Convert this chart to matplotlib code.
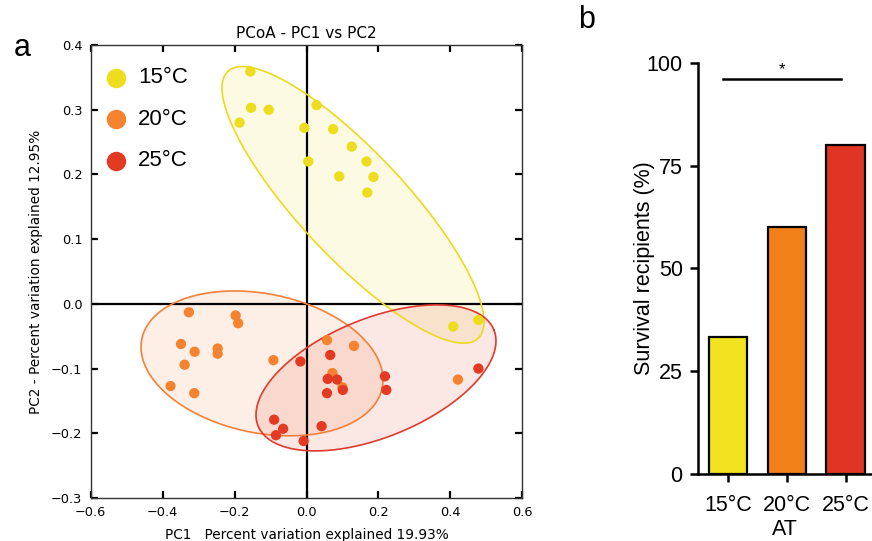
import numpy as np
import matplotlib
matplotlib.use("Agg")
import matplotlib.pyplot as plt

plt.rcParams['font.family'] = ['DejaVu Sans']

# ---------------- data ----------------
groups = ["15°C", "20°C", "25°C"]
point_colors = ["#EEDC1E", "#F5822F", "#E23A23"]
edge_colors = ["#EDD91E", "#F4803A", "#E0392E"]

pc1_15 = [-0.156, -0.154, -0.105, -0.186, -0.006, 0.028, 0.074, 0.126, 0.167, 0.005, 0.091, 0.186, 0.169, 0.408, 0.478]
pc2_15 = [0.359, 0.303, 0.300, 0.280, 0.272, 0.307, 0.270, 0.243, 0.220, 0.220, 0.197, 0.196, 0.172, -0.035, -0.025]

pc1_20 = [-0.327, -0.197, -0.190, -0.349, -0.311, -0.247, -0.247, -0.339, -0.378, -0.312, -0.092, 0.057, 0.132, 0.072, 0.100, 0.421]
pc2_20 = [-0.013, -0.018, -0.030, -0.062, -0.074, -0.069, -0.077, -0.094, -0.127, -0.138, -0.087, -0.056, -0.065, -0.107, -0.129, -0.117]

pc1_25 = [-0.017, 0.066, 0.059, 0.085, 0.101, 0.057, 0.218, 0.222, 0.478, -0.090, -0.065, -0.085, 0.042, -0.008]
pc2_25 = [-0.089, -0.079, -0.116, -0.117, -0.133, -0.138, -0.112, -0.133, -0.100, -0.179, -0.193, -0.203, -0.189, -0.212]

# ellipses: center and two conjugate semi-axis vectors (data units)
ell_center = [(0.1293, 0.1530), (-0.1237, -0.0920), (0.1932, -0.1144)]
ell_u = [(0.348, -0.2062), (0.3342, -0.0377), (0.3278, 0.0743)]
ell_v = [(-0.1073, -0.0561), (-0.0386, -0.1054), (0.0623, -0.0849)]

bar_labels = ["15°C", "20°C", "25°C"]
survival = [33.3, 60.0, 80.0]
bar_colors = ["#F1E31F", "#F28019", "#E03522"]
sig_x = [-0.09, 1.92]
sig_y = 96.0

xticks_a = [-0.6, -0.4, -0.2, 0.0, 0.2, 0.4, 0.6]
yticks_a = [-0.3, -0.2, -0.1, 0.0, 0.1, 0.2, 0.3, 0.4]
yticks_b = [0, 25, 50, 75, 100]

# ---------------- figure ----------------
fig = plt.figure(figsize=(8.72, 5.41), dpi=100)

W, H = 872.0, 541.0
ax = fig.add_axes([90.7 / W, 1 - 498 / H, (522.3 - 90.7) / W, (498 - 45) / H])

ax.set_xlim(-0.6, 0.6)
ax.set_ylim(-0.3, 0.4)

xs = [pc1_15, pc1_20, pc1_25]
ys = [pc2_15, pc2_20, pc2_25]

t = np.linspace(0, 2 * np.pi, 400)
for i in range(3):
    cx, cy = ell_center[i]
    ux, uy = ell_u[i]
    vx, vy = ell_v[i]
    ex = cx + ux * np.cos(t) + vx * np.sin(t)
    ey = cy + uy * np.cos(t) + vy * np.sin(t)
    ax.fill(ex, ey, color=point_colors[i], alpha=0.12, lw=0, zorder=1)
    ax.plot(ex, ey, color=edge_colors[i], lw=1.2, zorder=2)

ax.axhline(0, color='black', lw=1.6, zorder=1.5)
ax.axvline(0, color='black', lw=1.6, zorder=1.5)

for i in range(3):
    ax.scatter(xs[i], ys[i], s=55, color=point_colors[i], edgecolors='none', zorder=3 + i)

ax.set_xticks(xticks_a)
ax.set_yticks(yticks_a)
ax.set_xticklabels([f"{v:.1f}".replace("-", "\u2212") for v in xticks_a])
ax.set_yticklabels([f"{v:.1f}".replace("-", "\u2212") for v in yticks_a])
ax.tick_params(direction='in', length=5, width=1.6, labelsize=9.3, pad=6,
               top=True, right=True, color='black')
for sp in ax.spines.values():
    sp.set_linewidth(1.0)
    sp.set_color('#333333')

ax.set_title("PCoA - PC1 vs PC2", fontsize=11, pad=5)
ax.set_xlabel("PC1   Percent variation explained 19.93%", fontsize=9.8, labelpad=6)
ax.set_ylabel("PC2 - Percent variation explained 12.95%", fontsize=9.8, labelpad=6)

# manual legend
leg_y = [0.928, 0.836, 0.745]
for i in range(3):
    ax.plot([0.0586], [leg_y[i]], 'o', ms=14, color=point_colors[i], mec='none',
            transform=ax.transAxes, clip_on=False, zorder=6)
    ax.text(0.1096, leg_y[i], groups[i], transform=ax.transAxes, va='center', ha='left',
            fontsize=16, family='Liberation Sans')

# ---------------- panel b ----------------
bx = fig.add_axes([698 / W, 1 - 474 / H, (872 - 698) / W, (474 - 62.7) / H])
pos = np.arange(len(bar_labels))
bx.bar(pos, survival, width=0.655, color=bar_colors, edgecolor='black', linewidth=1.6, zorder=2)
bx.set_xlim(-0.51, 2.45)
bx.set_ylim(0, 100)
bx.set_yticks(yticks_b)
bx.set_xticks(pos)
bx.set_xticklabels(bar_labels)
for lab in bx.get_xticklabels() + bx.get_yticklabels():
    lab.set_family('Liberation Sans')
bx.tick_params(direction='out', length=6, width=1.8, labelsize=15.5, pad=5)
bx.tick_params(axis='x', pad=9)
bx.spines['top'].set_visible(False)
bx.spines['right'].set_visible(False)
bx.spines['left'].set_linewidth(1.8)
bx.spines['bottom'].set_linewidth(1.8)
bx.set_xlabel("AT", fontsize=15.5, family='Liberation Sans', labelpad=2)
bx.set_ylabel("Survival recipients (%)", fontsize=15.5, family='Liberation Sans', labelpad=-6)

bx.plot(sig_x, [sig_y, sig_y], color='black', lw=1.8, clip_on=False, zorder=3)
bx.text(np.mean(sig_x), sig_y + 0.5, "*", ha='center', va='bottom', fontsize=12,
        family='Liberation Sans')

# panel letters
fig.text(22 / W, 1 - 48 / H, "a", fontsize=22, family='Liberation Sans', ha='center', va='center')
fig.text(587 / W, 1 - 20 / H, "b", fontsize=22, family='Liberation Sans', ha='center', va='center')

fig.savefig("out.png", dpi=100)
